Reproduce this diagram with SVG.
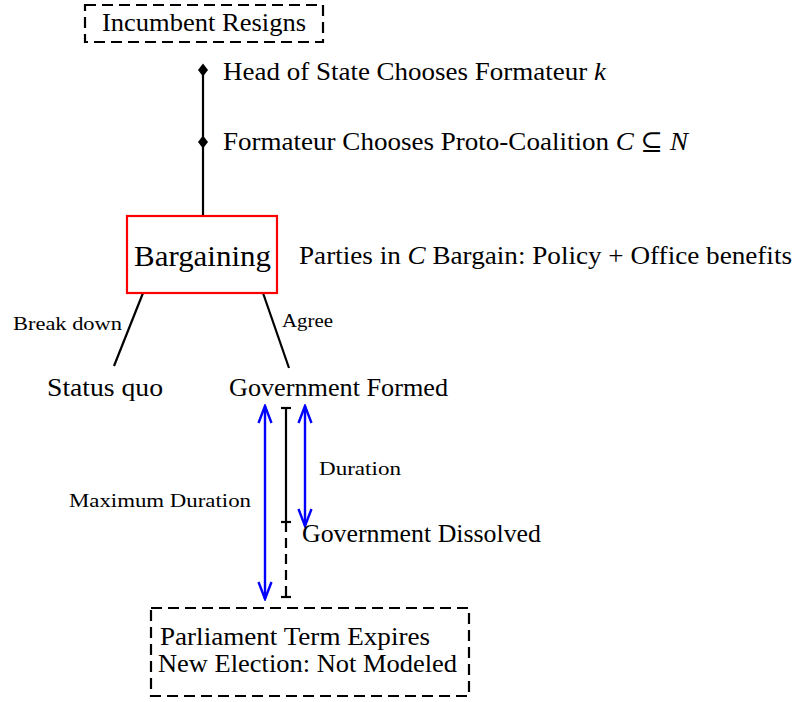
<svg xmlns="http://www.w3.org/2000/svg" width="796" height="702" viewBox="0 0 796 702">
<style>
text{font-family:"Liberation Serif","DejaVu Serif","Times New Roman",serif;fill:#000}
.m{font-size:25px}
.s{font-size:19px}
.l{font-size:30px}
.dash{fill:none;stroke:#000;stroke-width:2.2;stroke-dasharray:11 6}
.ln{stroke:#000;stroke-width:2.2;fill:none}
.blue{stroke:#0000ff;stroke-width:2.4;fill:none}
</style>
<defs>
<marker id="ah" viewBox="-18 -9 20 18" markerWidth="20" markerHeight="18" refX="0" refY="0" orient="auto-start-reverse" markerUnits="userSpaceOnUse">
<path d="M-17,-6.5 L0,0 L-17,6.5" fill="none" stroke="#0000ff" stroke-width="2.4"/>
</marker>
<path id="dm" d="M0,-6.5 L5,0 L0,6.5 L-5,0 Z" fill="#000"/>
</defs>
<rect width="796" height="702" fill="#fff"/>

<g id="connectors">
<line class="ln" x1="203" y1="70" x2="203" y2="216"/>
<line class="ln" x1="143" y1="293" x2="114" y2="366"/>
<line class="ln" x1="263" y1="293" x2="289" y2="368"/>
<line class="ln" x1="286" y1="408" x2="286" y2="522"/>
<line class="ln" x1="286" y1="522" x2="286" y2="597" stroke-dasharray="10 6"/>
<line class="ln" x1="281" y1="408" x2="291" y2="408"/>
<line class="ln" x1="281" y1="522" x2="291" y2="522"/>
<line class="ln" x1="281" y1="597" x2="291" y2="597"/>
<line class="blue" x1="265" y1="406" x2="265" y2="599" marker-start="url(#ah)" marker-end="url(#ah)"/>
<line class="blue" x1="305" y1="406" x2="305" y2="526" marker-start="url(#ah)" marker-end="url(#ah)"/>
<text class="s" x="13" y="330" textLength="109" lengthAdjust="spacingAndGlyphs">Break down</text>
<text class="s" x="282" y="327" textLength="51" lengthAdjust="spacingAndGlyphs">Agree</text>
<text class="s" x="319" y="475" textLength="82" lengthAdjust="spacingAndGlyphs">Duration</text>
<text class="s" x="69" y="507" textLength="182" lengthAdjust="spacingAndGlyphs">Maximum Duration</text>
</g>

<g id="incumbent">
<rect class="dash" x="85" y="5" width="238" height="37"/>
<text class="m" x="102" y="31" textLength="204" lengthAdjust="spacingAndGlyphs">Incumbent Resigns</text>
</g>

<g id="head-of-state">
<use href="#dm" x="203" y="70"/>
<text class="m" x="223" y="80" textLength="383" lengthAdjust="spacingAndGlyphs">Head of State Chooses Formateur <tspan font-style="italic">k</tspan></text>
</g>

<g id="formateur">
<use href="#dm" x="203" y="142"/>
<text class="m" x="223" y="150" textLength="465" lengthAdjust="spacingAndGlyphs">Formateur Chooses Proto-Coalition <tspan font-style="italic">C</tspan> ⊆ <tspan font-style="italic">N</tspan></text>
</g>

<g id="bargaining">
<rect x="127" y="216" width="150" height="77" fill="none" stroke="#ff0000" stroke-width="2.2"/>
<text class="l" x="134" y="266" textLength="137" lengthAdjust="spacingAndGlyphs">Bargaining</text>
</g>

<g id="parties">
<text class="m" x="299" y="264" textLength="493" lengthAdjust="spacingAndGlyphs">Parties in <tspan font-style="italic">C</tspan> Bargain: Policy + Office benefits</text>
</g>

<g id="status-quo">
<text class="m" x="47" y="396" textLength="116" lengthAdjust="spacingAndGlyphs">Status quo</text>
</g>

<g id="gov-formed">
<text class="m" x="229" y="396" textLength="219" lengthAdjust="spacingAndGlyphs">Government Formed</text>
</g>

<g id="gov-dissolved">
<text class="m" x="302" y="542" textLength="239" lengthAdjust="spacingAndGlyphs">Government Dissolved</text>
</g>

<g id="parliament">
<rect class="dash" x="151" y="608" width="318" height="88"/>
<text class="m" x="160" y="645" textLength="270" lengthAdjust="spacingAndGlyphs">Parliament Term Expires</text>
<text class="m" x="158" y="672" textLength="299" lengthAdjust="spacingAndGlyphs">New Election: Not Modeled</text>
</g>
</svg>
